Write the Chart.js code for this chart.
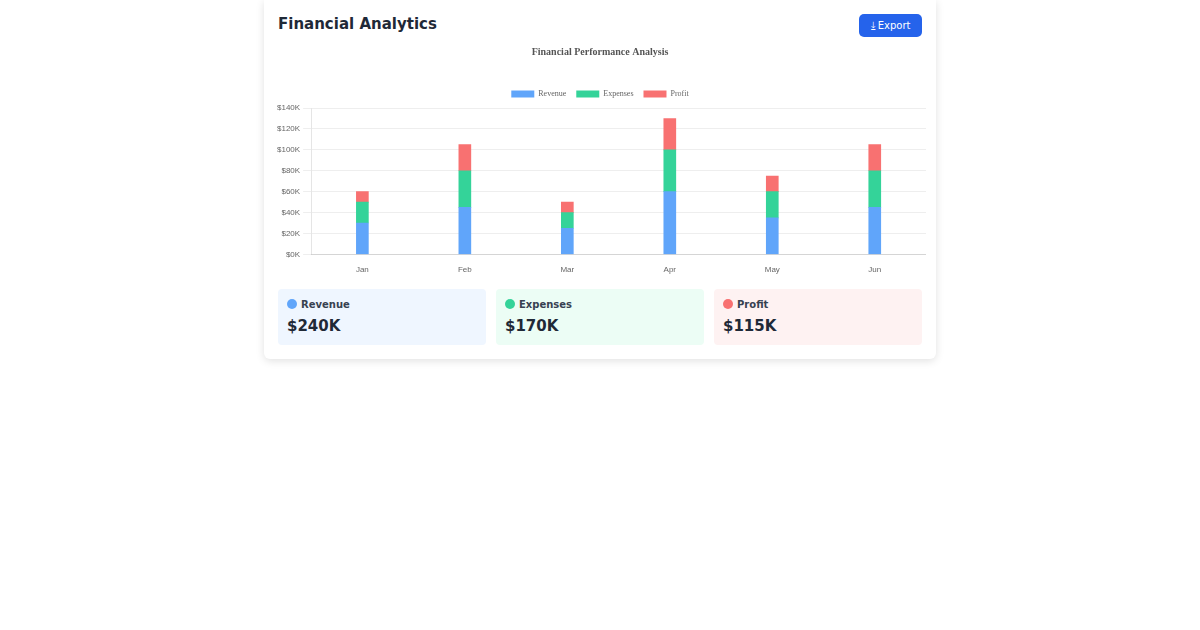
<!DOCTYPE html>
<html lang="en">
<head>
<meta charset="UTF-8">
<script src="https://cdn.jsdelivr.net/npm/chart.js"></script>
<style>
  body { margin: 0; background: #fff; font-family: "DejaVu Sans", sans-serif; }
  .card { position: absolute; left: 264px; top: 0; width: 672px; height: 359px; background: #fff;
          border-radius: 0 0 6px 6px; box-shadow: 0 2px 8px rgba(0,0,0,0.12); }
  h2 { position: absolute; left: 14px; top: 15px; margin: 0; font-size: 15px; color: #1f2937; }
  .btn { position: absolute; left: 595px; top: 14px; width: 63px; height: 23px; background: #2563eb;
         color: #fff; border-radius: 5px; font-size: 10px; line-height: 23px; text-align: center; }
  .chartbox { position: absolute; left: 10px; top: 44px; width: 652px; height: 234px; }
  .stat { position: absolute; top: 289px; width: 208px; height: 56px; border-radius: 4px; }
  .stat .lbl { position: absolute; left: 9px; top: 10px; font-size: 10px; font-weight: bold; color: #374151; }
  .stat .dot { display: inline-block; width: 10px; height: 10px; border-radius: 50%; vertical-align: -1px; margin-right: 4px; }
  .stat .val { position: absolute; left: 9px; top: 28px; font-size: 15px; font-weight: bold; color: #1f2937; }
</style>
</head>
<body>
<div class="card">
  <h2>Financial Analytics</h2>
  <div class="btn">&#x2913; Export</div>
  <div class="chartbox"><canvas id="grafico"></canvas></div>
  <div class="stat" style="left:14px;background:#eff6ff"><div class="lbl"><span class="dot" style="background:#60a5fa"></span>Revenue</div><div class="val">$240K</div></div>
  <div class="stat" style="left:232px;background:#ecfdf5"><div class="lbl"><span class="dot" style="background:#34d399"></span>Expenses</div><div class="val">$170K</div></div>
  <div class="stat" style="left:450px;background:#fef2f2"><div class="lbl"><span class="dot" style="background:#f87171"></span>Profit</div><div class="val">$115K</div></div>
</div>
<script>
  var meses = ['Jan', 'Feb', 'Mar', 'Apr', 'May', 'Jun'];
  var revenue = [30, 45, 25, 60, 35, 45];
  var expenses = [20, 35, 15, 40, 25, 35];
  var profit = [10, 25, 10, 30, 15, 25];

  var ctx = document.getElementById('grafico').getContext('2d');
  new Chart(ctx, {
    type: 'bar',
    data: {
      labels: meses,
      datasets: [
        { label: 'Revenue', data: revenue, backgroundColor: '#60a5fa' },
        { label: 'Expenses', data: expenses, backgroundColor: '#34d399' },
        { label: 'Profit', data: profit, backgroundColor: '#f87171' }
      ]
    },
    options: {
      responsive: true,
      maintainAspectRatio: false,
      animation: false,
      barThickness: 12,
      scales: {
        x: { stacked: true, grid: { display: false }, ticks: { font: { size: 8 }, color: '#666' } },
        y: {
          stacked: true, beginAtZero: true, max: 140,
          ticks: { stepSize: 20, font: { size: 8 }, color: '#666', callback: v => '$' + v + 'K' },
          grid: { color: '#eee' }
        }
      },
      plugins: {
        title: { display: true, text: 'Financial Performance Analysis', color: '#555',
                 font: { family: 'Liberation Serif', size: 10, weight: 'bold' }, padding: { top: 2, bottom: 22 } },
        legend: { labels: { boxWidth: 23, boxHeight: 7, color: '#666', font: { family: 'Liberation Serif', size: 8 } } }
      }
    }
  });
</script>
</body>
</html>
